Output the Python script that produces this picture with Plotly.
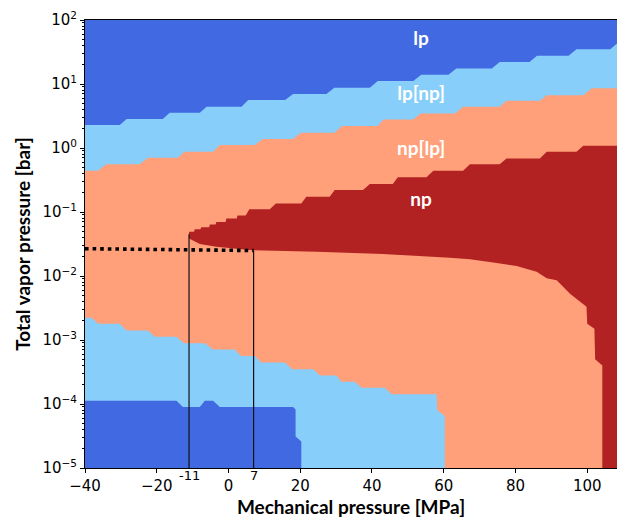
import plotly.graph_objects as go

# ---------------- axis limits ----------------
X_MIN, X_MAX = -40.0, 108.3
Y_MIN, Y_MAX = 1e-5, 1e2

# ---------------- region colours ----------------
C_LP = "#4169E1"      # lp
C_LPNP = "#87CEFA"    # lp[np]
C_NPLP = "#FFA07A"    # np[lp]
C_NP = "#B22222"      # np

# ---------------- boundaries ----------------
# upper lp | lp[np] boundary
lp_top_x = [-40.0, -30.3, -28.4, -18.3, -16.4, -8.0, -6.1, 3.6, 5.5, 15.8, 18.0, 27.3, 29.5,
            39.4, 41.6, 51.5, 53.7, 61.3, 63.5, 73.4, 75.6, 83.9, 86.0, 94.8, 97.0, 106.4, 108.3]
lp_top_y = [2.29, 2.29, 2.83, 2.83, 3.56, 3.56, 4.41, 4.41, 5.6, 5.6, 7.0, 7.0, 8.75,
            8.75, 11.1, 11.1, 14.0, 14.0, 17.5, 17.5, 22.0, 22.0, 27.7, 27.7, 34.8, 34.8, 43.0]

# upper lp[np] | np[lp] boundary
lpnp_top_x = [-40.0, -36.4, -34.1, -24.8, -22.4, -14.1, -12.3, -4.3, -2.4, 7.3, 9.6, 18.0, 20.2,
              29.5, 31.7, 41.6, 43.2, 51.5, 53.5, 63.1, 65.4, 75.6, 77.5, 86.8, 88.7, 98.9, 101.3, 108.3]
lpnp_top_y = [0.442, 0.442, 0.556, 0.556, 0.705, 0.705, 0.875, 0.875, 1.11, 1.11, 1.38, 1.38, 1.73,
              1.73, 2.2, 2.2, 2.8, 2.8, 3.47, 3.47, 4.41, 4.41, 5.47, 5.47, 6.7, 6.7, 8.55, 8.55]

# np upper boundary (np[lp] | np)
np_up_x = [-11.0, -9.6, -9.4, -7.8, -7.6, -5.4, -5.2, -3.6, -3.4, -0.8, -0.6, 2.3, 2.5, 4.8, 5.8,
           11.5, 13.2, 20.3, 21.7, 28.2, 29.6, 37.5, 39.4, 45.8, 47.2, 55.2, 57.1, 65.4, 67.3,
           75.6, 77.5, 86.8, 88.7, 97.0, 98.9, 108.3]
np_up_y = [0.049, 0.049, 0.054, 0.054, 0.058, 0.058, 0.064, 0.064, 0.070, 0.070, 0.079, 0.079,
           0.088, 0.088, 0.11, 0.11, 0.136, 0.136, 0.173, 0.173, 0.22, 0.22, 0.273, 0.273, 0.35,
           0.35, 0.44, 0.44, 0.555, 0.555, 0.687, 0.687, 0.873, 0.873, 1.08, 1.08]

# np lower boundary (right to left, ending at the tip)
np_low_x = [104.2, 104.2, 102.2, 102.0, 100.0, 99.8, 95.2, 91.5, 88.7, 85.9, 83.5, 80.3, 73.8,
            67.3, 61.7, 43.1, 24.5, 5.9, -3.4, -8.0, -11.0]
np_low_y = [1e-5, 4.0e-4, 5.0e-4, 1.5e-3, 1.8e-3, 3.3e-3, 5.3e-3, 8.6e-3, 9.2e-3, 1.16e-2,
            1.28e-2, 1.43e-2, 1.63e-2, 1.82e-2, 1.92e-2, 2.2e-2, 2.39e-2, 2.54e-2, 2.86e-2,
            3.15e-2, 3.86e-2]

# lower np[lp] | lp[np] boundary
lpnp_low_x = [-40.0, -38.2, -36.3, -30.3, -28.4, -22.5, -20.5, -14.5, -12.4, -6.6, -4.3, 1.7, 3.5,
              7.3, 9.2, 15.7, 17.8, 23.6, 25.5, 30.1, 31.5, 35.2, 37.1, 43.6, 45.5, 58.0, 58.2,
              60.3, 60.3]
lpnp_low_y = [2.22e-3, 2.22e-3, 1.79e-3, 1.79e-3, 1.41e-3, 1.41e-3, 1.12e-3, 1.12e-3, 8.9e-4,
              8.9e-4, 7.1e-4, 7.1e-4, 5.6e-4, 5.6e-4, 4.46e-4, 4.46e-4, 3.5e-4, 3.5e-4, 2.79e-4,
              2.79e-4, 2.22e-4, 2.22e-4, 1.79e-4, 1.79e-4, 1.42e-4, 1.42e-4, 8.0e-5, 6.5e-5, 1e-5]

# lower lp[np] | lp boundary
lp_low_x = [-40.0, -14.5, -12.7, -8.0, -6.6, -4.3, -2.4, 18.0, 18.7, 18.7, 20.3, 20.3]
lp_low_y = [1.12e-4, 1.12e-4, 9.0e-5, 9.0e-5, 1.12e-4, 1.12e-4, 9.0e-5, 9.0e-5, 8.2e-5,
            3.1e-5, 2.6e-5, 1e-5]

# guide lines
dot_x = [-40.0, 7.0]
dot_y = [0.0267, 0.025]
vline_x = [-11.0, 7.0]
vline_top = [0.045, 0.025]

# region labels
label_text = ["lp", "lp[np]", "np[lp]", "np"]
label_x = [53.7, 53.7, 53.7, 53.7]
label_y = [48.7, 6.7, 0.93, 0.148]

# ticks
x_tickvals = [-40, -20, 0, 20, 40, 60, 80, 100]
x_ticktext = ["\u221240", "\u221220", "0", "20", "40", "60", "80", "100"]
x_extra_vals = [-11, 7]
x_extra_text = ["-11", "7"]
y_tickvals = [1e-5, 1e-4, 1e-3, 1e-2, 1e-1, 1e0, 1e1, 1e2]
y_ticktext = ["10<sup>\u22125</sup>", "10<sup>\u22124</sup>", "10<sup>\u22123</sup>",
              "10<sup>\u22122</sup>", "10<sup>\u22121</sup>", "10<sup>0</sup>",
              "10<sup>1</sup>", "10<sup>2</sup>"]

fig = go.Figure()


def poly(xs, ys, color):
    fig.add_trace(go.Scatter(x=xs, y=ys, mode="lines", fill="toself", fillcolor=color,
                             line=dict(width=0, color=color), hoverinfo="skip",
                             showlegend=False))


# upper lp[np] (everything above its lower boundary), then lp on top
poly(lpnp_top_x + [X_MAX, X_MIN], lpnp_top_y + [Y_MAX, Y_MAX], C_LPNP)
poly(lp_top_x + [X_MAX, X_MIN], lp_top_y + [Y_MAX, Y_MAX], C_LP)
# np wedge
poly(np_up_x + [X_MAX] + np_low_x, np_up_y + [Y_MIN] + np_low_y, C_NP)
# lower lp[np], then lower lp
poly(lpnp_low_x + [X_MIN], lpnp_low_y + [Y_MIN], C_LPNP)
poly(lp_low_x + [X_MIN], lp_low_y + [Y_MIN], C_LP)

# vertical guide lines
for vx, vt in zip(vline_x, vline_top):
    fig.add_trace(go.Scatter(x=[vx, vx], y=[Y_MIN, vt], mode="lines",
                             line=dict(color="#111111", width=1.2),
                             hoverinfo="skip", showlegend=False))
# dotted horizontal line
fig.add_trace(go.Scatter(x=dot_x, y=dot_y, mode="lines",
                         line=dict(color="black", width=3.6, dash="3.6px,4px"),
                         hoverinfo="skip", showlegend=False))

# region labels
fig.add_trace(go.Scatter(x=label_x, y=label_y, mode="text", text=label_text,
                         textfont=dict(family="Lato", size=19, color="white", weight="bold"),
                         hoverinfo="skip", showlegend=False))

# extra raised tick labels
for v, t in zip(x_extra_vals, x_extra_text):
    fig.add_annotation(x=v, xref="x", y=0, yref="paper", yanchor="top", yshift=2,
                       text=t, showarrow=False,
                       font=dict(family="DejaVu Sans", size=13, color="black"))

fig.update_layout(
    width=617, height=519,
    margin=dict(l=85, r=0, t=20, b=51, autoexpand=False),
    paper_bgcolor="white",
    plot_bgcolor=C_NPLP,
    showlegend=False,
    xaxis=dict(
        range=[X_MIN, X_MAX], tickmode="array", tickvals=x_tickvals, ticktext=x_ticktext,
        automargin=False,
        ticks="outside", ticklen=4, tickwidth=1, tickcolor="black",
        showline=True, linecolor="black", linewidth=1, mirror=True,
        showgrid=False, zeroline=False,
        tickfont=dict(family="DejaVu Sans", size=15, color="black"),
        title=dict(text="Mechanical pressure [MPa]", standoff=1,
                   font=dict(family="Lato", size=19, color="black", weight="bold")),
    ),
    yaxis=dict(
        type="log", range=[-5, 2], tickmode="array", tickvals=y_tickvals, ticktext=y_ticktext,
        automargin=False,
        ticks="outside", ticklen=4, tickwidth=1, tickcolor="black",
        minor=dict(ticks="outside", ticklen=2, tickwidth=0.7, tickcolor="black", dtick="D1",
                   showgrid=False),
        showline=True, linecolor="black", linewidth=1,
        showgrid=False, zeroline=False,
        tickfont=dict(family="DejaVu Sans", size=15, color="black"),
        title=dict(text="Total vapor pressure [bar]", standoff=6,
                   font=dict(family="Lato", size=19, color="black", weight="bold")),
    ),
)

fig.write_html(
    "out.html",
    config={"displayModeBar": False},
    post_script="document.body.style.margin='0';document.body.style.overflow='hidden';",
)
